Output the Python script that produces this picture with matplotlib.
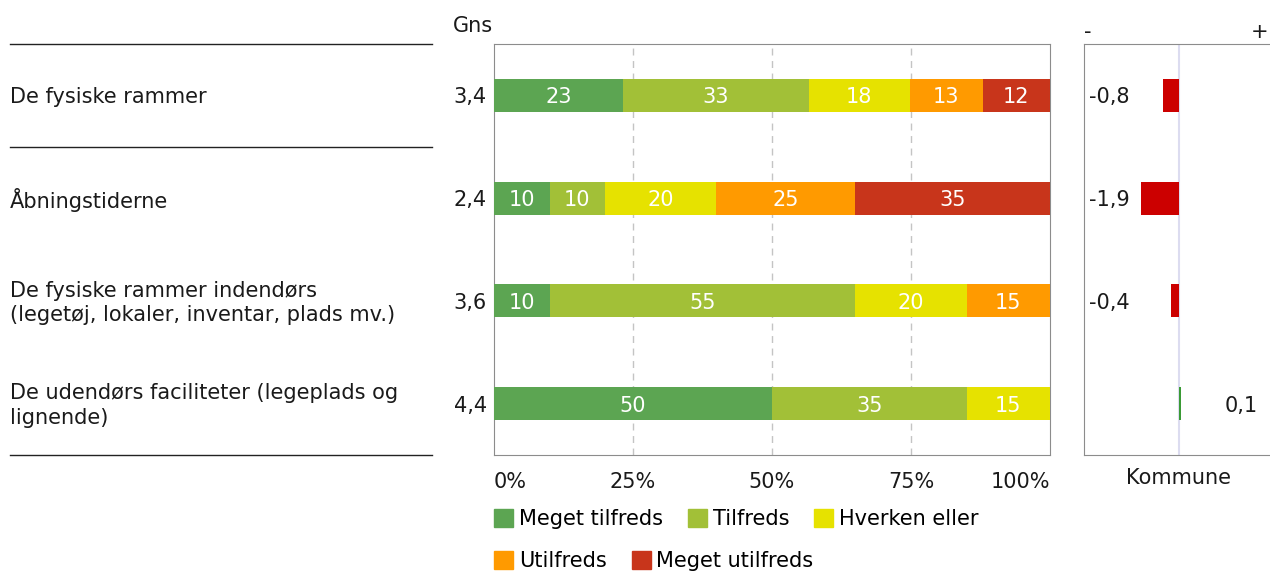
import numpy as np
import matplotlib
matplotlib.use('Agg')
import matplotlib.pyplot as plt
from matplotlib.patches import Patch
from matplotlib import transforms

QUESTIONS = ['De fysiske rammer',
             'Åbningstiderne',
             'De fysiske rammer indendørs\n(legetøj, lokaler, inventar, plads mv.)',
             'De udendørs faciliteter (legeplads og\nlignende)']
CATEGORIES = ['Meget tilfreds', 'Tilfreds', 'Hverken eller', 'Utilfreds', 'Meget utilfreds']
COLORS = ['#5ca552', '#a2c037', '#e6e200', '#ff9a00', '#c8351b']
SHARES = np.array([[23, 33, 18, 13, 12],
                   [10, 10, 20, 25, 35],
                   [10, 55, 20, 15, 0],
                   [50, 35, 15, 0, 0]], dtype=float)
AVERAGES = ['3,4', '2,4', '3,6', '4,4']
KOMMUNE_DIFF = [-0.8, -1.9, -0.4, 0.1]
XTICKS = [0, 25, 50, 75, 100]
XTICK_LABELS = ['0%', '25%', '50%', '75%', '100%']

FS = 15
TXT = '#1a1a1a'
SPINE = '#8c8c8c'
plt.rcParams['font.family'] = ['DejaVu Sans']

W, H = 1270, 573
fig = plt.figure(figsize=(W / 100, H / 100), dpi=100)

def frac(x0, x1, y_top=44, y_bot=455):
    return [x0 / W, (H - y_bot) / H, (x1 - x0) / W, (y_bot - y_top) / H]

n = len(QUESTIONS)
rows = np.arange(n)

# left label column
ax_lab = fig.add_axes(frac(10, 432))
ax_lab.set_xlim(0, 1)
ax_lab.set_ylim(n - 0.5, -0.5)
ax_lab.axis('off')
for y in [-0.5, 0.5, n - 0.5]:
    ax_lab.axhline(y, color='#222222', lw=1, clip_on=False)
for i, q in enumerate(QUESTIONS):
    ax_lab.text(0, i + 0.02, q, ha='left', va='center', fontsize=FS, color=TXT, linespacing=1.3)

# main stacked bars
ax = fig.add_axes(frac(494, 1050))
pct = SHARES / SHARES.sum(axis=1, keepdims=True) * 100
left = np.zeros(n)
for j, cat in enumerate(CATEGORIES):
    ax.barh(rows, pct[:, j], left=left, height=0.32, color=COLORS[j], label=cat, zorder=3)
    for i in rows:
        if SHARES[i, j] > 0:
            ax.text(left[i] + pct[i, j] / 2, i, '%d' % SHARES[i, j], ha='center',
                    va='center_baseline', color='white', fontsize=FS, zorder=4)
    left += pct[:, j]
ax.set_xlim(0, 100)
ax.set_ylim(n - 0.5, -0.5)
ax.set_yticks([])
ax.set_xticks(XTICKS)
ax.set_xticklabels(XTICK_LABELS, fontsize=FS, color=TXT)
ax.tick_params(axis='x', length=0, pad=12)
labs = ax.get_xticklabels()
labs[0].set_ha('left')
labs[-1].set_ha('right')
for x in XTICKS[1:-1]:
    ax.axvline(x, color='#c4c4c4', ls=(0, (5, 4)), lw=1, zorder=1)
for s in ax.spines.values():
    s.set_color(SPINE)
for i, a in enumerate(AVERAGES):
    ax.text(-0.013, i, a, transform=transforms.blended_transform_factory(ax.transAxes, ax.transData),
            ha='right', va='center_baseline', fontsize=FS, color=TXT)
ax.text(-0.002, 1.045, 'Gns', transform=ax.transAxes, ha='right', va='center', fontsize=FS, color=TXT)

# legend in two rows
handles = [Patch(color=c) for c in COLORS]
leg_kw = dict(frameon=False, fontsize=FS, handlelength=0.92, handleheight=0.92,
              handletextpad=0.27, columnspacing=1.2, borderaxespad=0, borderpad=0)
leg1 = fig.legend(handles[:3], CATEGORIES[:3], ncol=3, loc='center left',
                  bbox_to_anchor=(494 / W, 1 - 519 / H), **leg_kw)
leg2 = fig.legend(handles[3:], CATEGORIES[3:], ncol=2, loc='center left',
                  bbox_to_anchor=(494 / W, 1 - 561 / H), **leg_kw)

# kommune comparison panel
axk = fig.add_axes(frac(1084, 1274))
axk.set_xlim(-4.75, 4.75)
axk.set_ylim(n - 0.5, -0.5)
axk.axvline(0, color='#dcdcf0', lw=1.5, zorder=1)
kcol = ['#cc0000' if d < 0 else '#3a9a35' for d in KOMMUNE_DIFF]
axk.barh(rows, KOMMUNE_DIFF, height=0.32, color=kcol, zorder=3)
for i, d in enumerate(KOMMUNE_DIFF):
    s = ('%.1f' % d).replace('.', ',')
    if d < 0:
        axk.text(-4.5, i, s, ha='left', va='center_baseline', fontsize=FS, color=TXT)
    else:
        axk.text(3.95, i, s, ha='right', va='center_baseline', fontsize=FS, color=TXT)
axk.set_xticks([])
axk.set_yticks([])
axk.spines['right'].set_visible(False)
for s in ['left', 'top', 'bottom']:
    axk.spines[s].set_color(SPINE)
tk = transforms.blended_transform_factory(axk.transData, axk.transAxes)
axk.text(-4.75, 1.03, '-', transform=tk, ha='left', va='center', fontsize=FS, color=TXT)
axk.text(4.05, 1.03, '+', transform=tk, ha='center', va='center', fontsize=FS, color=TXT)
axk.text(0, -0.056, 'Kommune', transform=tk, ha='center', va='center', fontsize=FS, color=TXT)

fig.savefig('out.png', dpi=100)
